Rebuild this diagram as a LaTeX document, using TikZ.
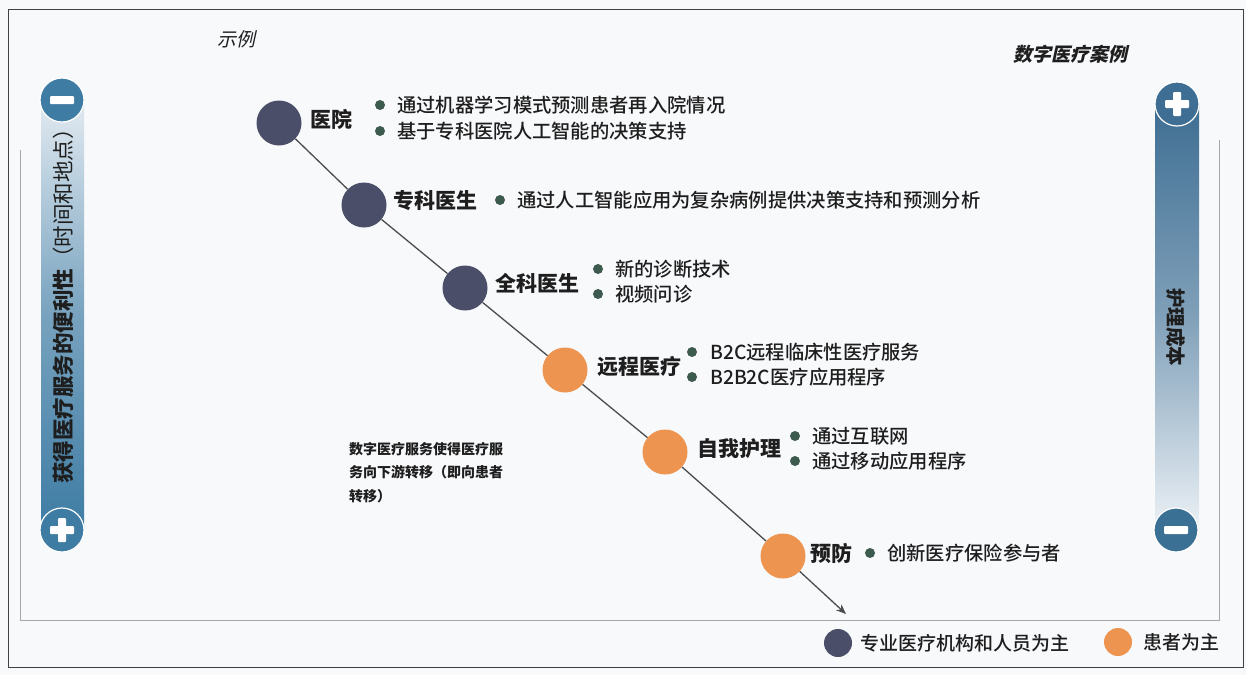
\documentclass[tikz,border=0pt]{standalone}
\usepackage{fontspec}
\setmainfont{Noto Sans CJK SC}[AutoFakeSlant=0.22, BoldItalicFeatures={FakeSlant=0.22}]
\newfontfamily\medf{Noto Sans CJK SC Medium}
\usetikzlibrary{arrows.meta}
\definecolor{navy}{HTML}{4A4E68}
\definecolor{orng}{HTML}{EC9450}
\definecolor{dotc}{HTML}{3D5A4E}
\definecolor{txt}{HTML}{1E1E1E}
\definecolor{barblue}{HTML}{3F7CA4}
\definecolor{barlight}{HTML}{E2EAF1}
\definecolor{rbar}{HTML}{3E6E93}
\definecolor{bg}{HTML}{F8F9FB}
\tikzset{
  stage/.style={circle, minimum size=45pt, inner sep=0pt},
  pro/.style={stage, fill=navy},
  pat/.style={stage, fill=orng},
  lbl/.style={anchor=west, inner sep=0pt, font=\fontsize{21}{22}\selectfont\bfseries, text=txt},
  itm/.style={anchor=west, inner sep=0pt, font=\medf\fontsize{19.3}{20}\selectfont, text=txt},
  dot/.style={circle, fill=dotc, minimum size=10pt, inner sep=0pt},
  link/.style={draw=black!70, line width=1.3pt},
  pm/.style={circle, minimum size=44pt, inner sep=0pt, draw=white, line width=1.2pt},
  frame/.style={draw=black!75, line width=1pt},
  inner/.style={draw=black!35, line width=0.8pt},
}
\begin{document}
\begin{tikzpicture}[x=1pt,y=-1pt]
\useasboundingbox (0,0) rectangle (1246,675);
\fill[bg] (0,0) rectangle (1246,675);
% outer frame
\draw[frame] (8,9) rectangle (1243,667);
% inner axis lines
\draw[inner] (20,150) -- (20,620) -- (1219,620) -- (1219,140);

% left bar
\shade[top color=barlight, bottom color=barblue, middle color=barblue!65!barlight] (41,100) rectangle (84,528);
\node[pm, fill=barblue] (lminus) at (62,100) {};
\fill[white, rounded corners=1pt] (50,96) rectangle (74,104);
\node[pm, fill=barblue] (lplus) at (62,530) {};
\fill[white, rounded corners=1pt] (50,526) rectangle (74,534);
\fill[white, rounded corners=1pt] (58,518) rectangle (66,542);
\node[rotate=90, text=txt, font=\fontsize{21.5}{23}\selectfont] (laxis) at (63,301) {\textbf{获得医疗服务的便利性}（时间和地点）};

% right bar
\shade[top color=rbar, bottom color=barlight!70!white, middle color=rbar!60!barlight] (1155,104) rectangle (1199,528);
\node[pm, fill=rbar] (rplus) at (1177,104) {};
\fill[white, rounded corners=1pt] (1165,100) rectangle (1189,108);
\fill[white, rounded corners=1pt] (1173,92) rectangle (1181,116);
\node[pm, fill=barblue!90!black] (rminus) at (1176,530) {};
\fill[white, rounded corners=1pt] (1164,526) rectangle (1188,534);
\node[rotate=-90, text=txt, font=\fontsize{19.5}{21}\selectfont\bfseries] (raxis) at (1176,327) {护理成本};

% titles
\node[text=txt, font=\fontsize{19}{21}\selectfont\itshape] (t1) at (236,39) {示例};
\node[text=txt, font=\fontsize{19}{21}\selectfont\bfseries\itshape] (t2) at (1070,54) {数字医疗案例};

% stages
\node[pro] (s1) at (279,123) {};
\node[pro] (s2) at (364,205) {};
\node[pro] (s3) at (465,288) {};
\node[pat] (s4) at (565,370) {};
\node[pat] (s5) at (665,452) {};
\node[pat] (s6) at (783,556) {};
\coordinate (end) at (846,614);

\draw[link] (s1) -- (s2);
\draw[link] (s2) -- (s3);
\draw[link] (s3) -- (s4);
\draw[link] (s4) -- (s5);
\draw[link] (s5) -- (s6);
\draw[link, -{Stealth[length=10pt,width=8pt]}] (s6) -- (end);

% labels and items
\node[lbl] (l1) at (310,119) {医院};
\node[dot] (d11) at (380,105) {};
\node[itm] (i11) at (397,105) {通过机器学习模式预测患者再入院情况};
\node[dot] (d12) at (380,131) {};
\node[itm] (i12) at (397,131) {基于专科医院人工智能的决策支持};

\node[lbl] (l2) at (393,201) {专科医生};
\node[dot] (d21) at (500,200) {};
\node[itm] (i21) at (517,200) {通过人工智能应用为复杂病例提供决策支持和预测分析};

\node[lbl] (l3) at (495,283) {全科医生};
\node[dot] (d31) at (598,269) {};
\node[itm] (i31) at (615,269) {新的诊断技术};
\node[dot] (d32) at (598,294) {};
\node[itm] (i32) at (615,294) {视频问诊};

\node[lbl] (l4) at (597,366) {远程医疗};
\node[dot] (d41) at (692,352) {};
\node[itm] (i41) at (710,352) {B2C远程临床性医疗服务};
\node[dot] (d42) at (692,377) {};
\node[itm] (i42) at (710,377) {B2B2C医疗应用程序};

\node[lbl] (l5) at (697,449) {自我护理};
\node[dot] (d51) at (795,436) {};
\node[itm] (i51) at (812,436) {通过互联网};
\node[dot] (d52) at (795,461) {};
\node[itm] (i52) at (812,461) {通过移动应用程序};

\node[lbl] (l6) at (810,553) {预防};
\node[dot] (d61) at (870,553) {};
\node[itm] (i61) at (887,553) {创新医疗保险参与者};

% note
\node[anchor=north west, inner sep=0pt, text=txt, align=left, font=\fontsize{14}{23.5}\selectfont\bfseries] (note) at (349,442) {数字医疗服务使得医疗服\\务向下游转移（即向患者\\转移）};

% legend
\node[circle, fill=navy, minimum size=28pt, inner sep=0pt] (lg1) at (838,643) {};
\node[anchor=west, inner sep=0pt, text=txt, font=\medf\fontsize{19}{20}\selectfont] (lt1) at (860,643) {专业医疗机构和人员为主};
\node[circle, fill=orng, minimum size=28pt, inner sep=0pt] (lg2) at (1118,642) {};
\node[anchor=west, inner sep=0pt, text=txt, font=\medf\fontsize{19}{20}\selectfont] (lt2) at (1143,642) {患者为主};
\end{tikzpicture}
\end{document}
